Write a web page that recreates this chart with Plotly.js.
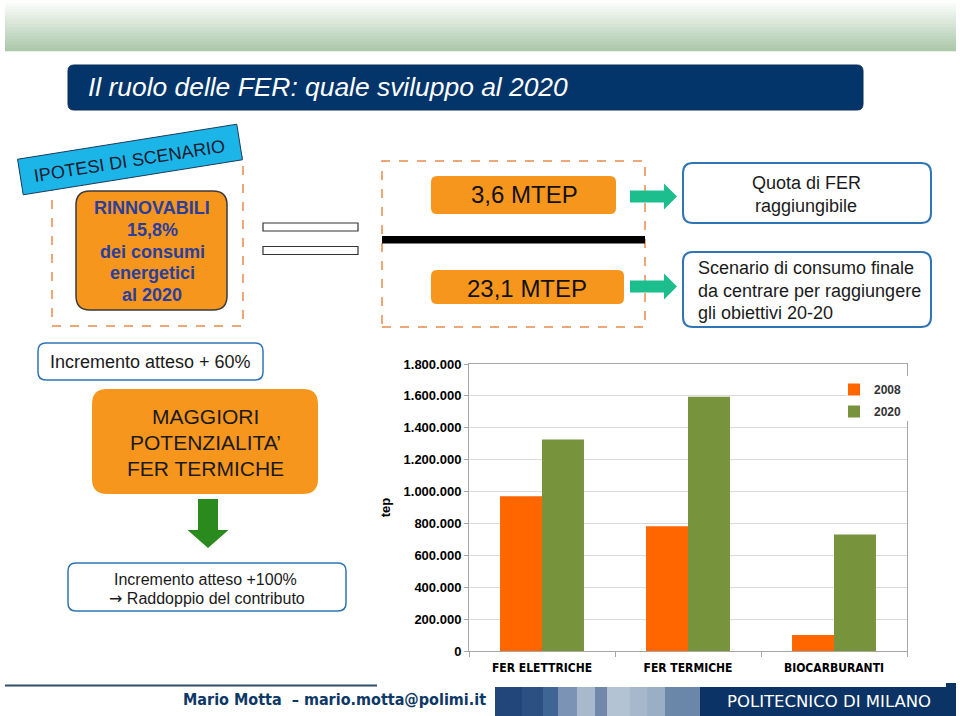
<!DOCTYPE html>
<html><head><meta charset="utf-8">
<script src="https://cdn.plot.ly/plotly-3.0.1.min.js"></script>
<style>html,body{margin:0;padding:0;background:#fff}#chart{width:960px;height:716px}</style>
</head><body><div id="chart"></div>
<script>
// ---- chart data ----
const categories = ['FER ELETTRICHE', 'FER TERMICHE', 'BIOCARBURANTI'];
const seriesNames = ['2008', '2020'];
const values2008 = [970000, 782000, 100000];
const values2020 = [1326000, 1594000, 730000];
const yAxisTitle = 'tep';
const yMax = 1800000;
const yStep = 200000;

// ---- slide texts ----
const slideTitle = 'Il ruolo delle FER: quale sviluppo al 2020';
const scenarioLabel = 'IPOTESI DI SCENARIO';
const rinnLines = ['RINNOVABILI', '15,8%', 'dei consumi', 'energetici', 'al 2020'];
const mtepTop = '3,6 MTEP';
const mtepBottom = '23,1 MTEP';
const quotaLines = ['Quota di FER', 'raggiungibile'];
const scenarioLines = ['Scenario di consumo finale', 'da centrare per raggiungere', 'gli obiettivi 20-20'];
const incr60 = 'Incremento atteso + 60%';
const maggioriLines = ['MAGGIORI', 'POTENZIALITA’', 'FER TERMICHE'];
const incr100Lines = ['Incremento atteso +100%', '<span style="font-family:DejaVu Sans">→</span> Raddoppio del contributo'];
const footerAuthor = 'Mario Motta  – mario.motta@polimi.it';
const footerInst = 'POLITECNICO DI MILANO';

// ---- helpers (pixel -> paper) ----
const W = 960, H = 716;
const px = x => x / W;
const py = y => 1 - y / H;
const P = (x, y) => px(x) + ',' + py(y);
const FONT = 'Liberation Sans, Arial, sans-serif';
const COND = 'DejaVu Sans Condensed, DejaVu Sans, sans-serif';

function rect(x0, y0, x1, y1, fill, line) {
  return {type: 'rect', xref: 'paper', yref: 'paper', x0: px(x0), x1: px(x1), y0: py(y1), y1: py(y0),
    fillcolor: fill, line: line || {width: 0}};
}
function roundRect(x0, y0, x1, y1, r, fill, line) {
  const d = 'M' + P(x0 + r, y0) + ' L' + P(x1 - r, y0) + ' Q' + P(x1, y0) + ' ' + P(x1, y0 + r) +
    ' L' + P(x1, y1 - r) + ' Q' + P(x1, y1) + ' ' + P(x1 - r, y1) +
    ' L' + P(x0 + r, y1) + ' Q' + P(x0, y1) + ' ' + P(x0, y1 - r) +
    ' L' + P(x0, y0 + r) + ' Q' + P(x0, y0) + ' ' + P(x0 + r, y0) + ' Z';
  return {type: 'path', xref: 'paper', yref: 'paper', path: d, fillcolor: fill, line: line || {width: 0}};
}
function poly(pts, fill, line) {
  const d = pts.map((p, i) => (i ? 'L' : 'M') + P(p[0], p[1])).join(' ') + ' Z';
  return {type: 'path', xref: 'paper', yref: 'paper', path: d, fillcolor: fill, line: line || {width: 0}};
}
function txt(text, x, y, size, color, o) {
  o = o || {};
  return {xref: 'paper', yref: 'paper', x: px(x), y: py(y), text: text, showarrow: false,
    xanchor: o.xanchor || 'center', yanchor: 'middle', textangle: o.angle || 0,
    font: {family: o.family || FONT, size: size, color: color, weight: o.weight || 'normal', style: o.style || 'normal'}};
}

const ORANGE = '#F7961D', BLUE = '#2F75B5', TEAL = '#1DBE8E', GREEN = '#2A8A1E',
      NAVY = '#03356A', DASH = '#E98A4A', CYAN = '#1CB5E8', RINN = '#2A3F9D';

const shapes = [];
const annotations = [];

// top gradient band
for (let i = 0; i < 17; i++) {
  const t = i / 16;
  const c = [253 + (172 - 253) * t, 254 + (201 - 254) * t, 253 + (171 - 253) * t].map(Math.round);
  shapes.push(rect(5, i * 3, 956, i * 3 + 3.3, 'rgb(' + c.join(',') + ')'));
}
// title bar
shapes.push(roundRect(68, 65, 863, 110, 6, NAVY, {color: '#0B2C55', width: 1}));
annotations.push(txt(slideTitle, 86, 87, 26.4, '#FFFFFF', {xanchor: 'left', style: 'italic'}));

// left dashed box + rotated label
shapes.push(rect(52, 157, 243, 326, 'rgba(0,0,0,0)', {color: DASH, width: 1.5, dash: 'dash'}));
(function () {
  const a = 9.08 * Math.PI / 180, cx = 130, cy = 159.5, hw = 111, hh = 18;
  const u = [Math.cos(a), -Math.sin(a)], v = [Math.sin(a), Math.cos(a)];
  const pt = (s, t) => [cx + u[0] * hw * s + v[0] * hh * t, cy + u[1] * hw * s + v[1] * hh * t];
  shapes.push(poly([pt(-1, -1), pt(1, -1), pt(1, 1), pt(-1, 1)], CYAN, {color: '#1A3A5A', width: 1}));
})();
annotations.push(txt(scenarioLabel, 129, 161, 18, '#1A1A2E', {angle: -9}));
shapes.push(roundRect(76, 191, 227, 310, 14, ORANGE, {color: '#3A3A3A', width: 1.5}));
const rinnY = [208, 230, 251.5, 273, 295];
rinnLines.forEach((s, i) => annotations.push(txt(s, 152, rinnY[i], 18, RINN, {weight: 'bold'})));

// equals sign
shapes.push(rect(263, 223, 358, 231, '#FFFFFF', {color: '#333333', width: 1.2}));
shapes.push(rect(263, 246.5, 358, 254.5, '#FFFFFF', {color: '#333333', width: 1.2}));

// middle dashed box, fraction
shapes.push(rect(382, 161, 645, 327, 'rgba(0,0,0,0)', {color: DASH, width: 1.5, dash: 'dash'}));
shapes.push(rect(382, 236, 645, 243.5, '#000000'));
shapes.push(roundRect(431, 176, 616, 214, 6, ORANGE));
shapes.push(roundRect(431, 270, 624, 304, 6, ORANGE));
annotations.push(txt(mtepTop, 524, 195, 24, '#111111'));
annotations.push(txt(mtepBottom, 527, 288, 24, '#111111'));

// teal arrows
[196.5, 286.5].forEach(cy => {
  shapes.push(poly([[630, cy - 6], [664, cy - 6], [664, cy - 13], [677, cy], [664, cy + 13], [664, cy + 6], [630, cy + 6]], TEAL));
});

// right blue boxes
shapes.push(roundRect(683, 163, 931, 223, 10, '#FFFFFF', {color: BLUE, width: 2}));
shapes.push(roundRect(683, 252, 931, 327, 10, '#FFFFFF', {color: BLUE, width: 2}));
annotations.push(txt(quotaLines[0], 806, 183, 18, '#1A1A1A'));
annotations.push(txt(quotaLines[1], 806, 206, 18, '#1A1A1A'));
const scenY = [268, 291, 313];
scenarioLines.forEach((s, i) => annotations.push(txt(s, 696, scenY[i], 18, '#1A1A1A', {xanchor: 'left'})));

// left lower column
shapes.push(roundRect(38, 343, 263, 380, 8, '#FFFFFF', {color: BLUE, width: 1.5}));
annotations.push(txt(incr60, 150.5, 361.5, 18, '#1A1A1A'));
shapes.push(roundRect(92, 389, 318, 494, 15, ORANGE));
const magY = [416, 442, 468];
maggioriLines.forEach((s, i) => annotations.push(txt(s, 205, magY[i], 21, '#1A1A1A')));
shapes.push(poly([[198, 499], [218, 499], [218, 530], [228.5, 530], [208, 548], [187.5, 530], [198, 530]], GREEN));
shapes.push(roundRect(68, 563, 346, 611, 8, '#FFFFFF', {color: BLUE, width: 1.5}));
annotations.push(txt(incr100Lines[0], 205, 579, 16, '#1A1A1A'));
annotations.push(txt(incr100Lines[1], 207, 598.5, 16, '#1A1A1A'));

// legend backdrop (hides grid/border behind legend)
const legendBg = rect(847, 376, 916, 421, '#FFFFFF');
legendBg.layer = 'above';
shapes.push(legendBg);

// footer
shapes.push({type: 'line', xref: 'paper', yref: 'paper', x0: px(5), x1: px(377), y0: py(685.5), y1: py(685.5),
  line: {color: '#2F4C68', width: 2.2}});
annotations.push(txt(footerAuthor, 488, 699, 16, '#0E3866', {xanchor: 'right', weight: 'bold', family: COND}));
const stripes = [[495, 522, '#22457A'], [522, 543, '#2C5082'], [543, 558, '#3F6594'], [558, 577, '#7B93B4'],
  [577, 595, '#A9B9CD'], [595, 607, '#7088A9'], [607, 630, '#B4C3D4'], [630, 647, '#A7B8CC'],
  [647, 665, '#9AAEC6'], [665, 700, '#6A86A8'], [700, 956, '#0B3365']];
stripes.forEach(s => shapes.push(rect(s[0], 687, s[1], 717, s[2])));
shapes.push(rect(946, 683, 956, 690, '#0B3365'));
annotations.push(txt(footerInst, 829, 701, 16.5, '#FFFFFF', {family: 'DejaVu Sans, sans-serif'}));

// ---- chart ----
const traces = [
  {type: 'bar', name: seriesNames[0], x: categories, y: values2008, marker: {color: '#FF6600'},
   legendgroup: 'a', hoverinfo: 'skip'},
  {type: 'bar', name: seriesNames[1], x: categories, y: values2020, marker: {color: '#77933C'},
   legendgroup: 'b', hoverinfo: 'skip'}
];

const axisGray = '#A6A6A6';
const layout = {
  width: W, height: H,
  margin: {l: 0, r: 0, t: 0, b: 0, pad: 0},
  paper_bgcolor: '#FFFFFF', plot_bgcolor: 'rgba(0,0,0,0)',
  separators: ',.',
  font: {family: FONT},
  barmode: 'group', bargap: 0.425, bargroupgap: 0,
  showlegend: true,
  legend: {x: px(834), xanchor: 'left', y: py(375), yanchor: 'top', bgcolor: 'rgba(0,0,0,0)',
    traceorder: 'grouped', tracegroupgap: 3, itemclick: false, itemdoubleclick: false,
    font: {family: FONT, size: 12, weight: 'bold', color: '#333333'}},
  xaxis: {domain: [px(469), px(907)], anchor: 'y', type: 'category', automargin: false, fixedrange: true,
    showline: true, linecolor: axisGray, linewidth: 1, mirror: true, showgrid: false,
    ticks: 'outside', tickson: 'boundaries', ticklen: 5, tickcolor: axisGray, ticklabelstandoff: 6,
    tickfont: {family: COND, size: 12, weight: 'bold', color: '#000000'}},
  yaxis: {domain: [py(651), py(364)], anchor: 'x', range: [0, yMax], tick0: 0, dtick: yStep, tickformat: ',d',
    automargin: false, fixedrange: true, zeroline: false,
    showgrid: true, gridcolor: '#D9D9D9', gridwidth: 1,
    showline: true, linecolor: axisGray, linewidth: 1, mirror: true,
    ticks: 'outside', ticklen: 4, tickcolor: axisGray,
    tickfont: {family: FONT, size: 13, weight: 'bold', color: '#000000'},
    title: {text: yAxisTitle, standoff: 10, font: {family: FONT, size: 13, weight: 'bold', color: '#000000'}}},
  shapes: shapes,
  annotations: annotations
};

Plotly.newPlot('chart', traces, layout, {displayModeBar: false, staticPlot: false, responsive: false});
</script>
</body></html>
